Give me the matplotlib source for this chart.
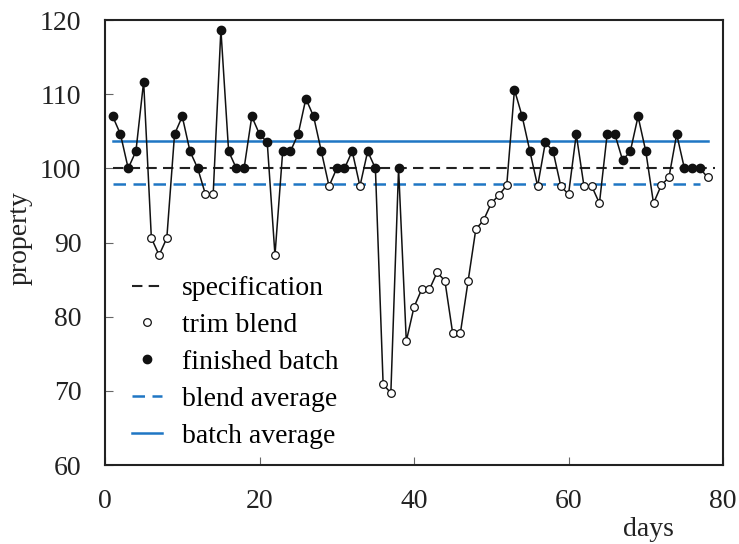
import numpy as np
import matplotlib.pyplot as plt

plt.rcParams['font.family'] = ['Liberation Serif', 'DejaVu Serif']

# measured property per day
days = np.arange(1, 79)
values = [107, 104.6, 100, 102.3, 111.7, 90.6, 88.3, 90.6, 104.6, 107,
          102.3, 100, 96.5, 96.5, 118.7, 102.3, 100, 100, 107, 104.6,
          103.5, 88.3, 102.3, 102.3, 104.6, 109.4, 107, 102.3, 97.6, 100,
          100, 102.3, 97.6, 102.3, 100, 70.9, 69.7, 100, 76.7, 81.3,
          83.7, 83.7, 86.0, 84.8, 77.8, 77.8, 84.8, 91.8, 93.0, 95.3,
          96.4, 97.7, 110.6, 107, 102.3, 97.6, 103.5, 102.3, 97.6, 96.5,
          104.6, 97.6, 97.6, 95.3, 104.6, 104.6, 101.1, 102.3, 107, 102.3,
          95.3, 97.7, 98.8, 104.6, 100, 100, 100, 98.8]
# days that were trim blends (the rest are finished batches)
trim_days = [6, 7, 8, 13, 14, 22, 29, 33, 36, 37, 39, 40, 41, 42, 43, 44,
             45, 46, 47, 48, 49, 50, 51, 52, 56, 59, 60, 62, 63, 64, 71,
             72, 73, 78]

spec = 100
blend_avg = 97.9
batch_avg = 103.7

values = np.array(values)
is_trim = np.isin(days, trim_days)

blue = '#1f76c4'

fig = plt.figure(figsize=(7.39, 5.44), dpi=100)
ax = fig.add_axes([0.1421, 0.1452, 0.8363, 0.8180])

ax.plot([1, 79], [spec, spec], color='#222222', lw=1.5, dashes=(5, 3),
        label='specification')
ax.plot([1, 77], [blend_avg, blend_avg], color=blue, lw=1.8, dashes=(5, 3))
ax.plot([1, 78], [batch_avg, batch_avg], color=blue, lw=1.8)

ax.plot(days, values, color='#111111', lw=1.1, zorder=3)
ax.plot(days[is_trim], values[is_trim], 'o', ms=5.5, mfc='white',
        mec='#111111', mew=0.9, zorder=4, label='trim blend')
ax.plot(days[~is_trim], values[~is_trim], 'o', ms=6, mfc='#111111',
        mec='#111111', zorder=4, label='finished batch')
ax.plot([], [], color=blue, lw=1.8, dashes=(5, 3), label='blend average')
ax.plot([], [], color=blue, lw=1.8, label='batch average')

ax.set_xlim(0, 80)
ax.set_ylim(60, 120)
ax.set_xticks([0, 20, 40, 60, 80])
ax.set_yticks([60, 70, 80, 90, 100, 110, 120])
ax.tick_params(direction='in', length=6, width=0.8, color='#666666',
               labelsize=20, pad=17, labelcolor='#222222')
for s in ax.spines.values():
    s.set_linewidth(1.5)
    s.set_color('#222222')

ax.set_xlabel('days', fontsize=20, color='#222222')
ax.xaxis.set_label_coords(0.879, -0.117)
ax.set_ylabel('property', fontsize=20, color='#222222')
ax.yaxis.set_label_coords(-0.117, 0.51)

ax.legend(loc='upper left', bbox_to_anchor=(0.043, 0.425), frameon=False,
          fontsize=20, handlelength=1.1, handletextpad=0.7,
          labelspacing=0.41, borderpad=0, borderaxespad=0, numpoints=1)

fig.savefig('out.png', dpi=100)
